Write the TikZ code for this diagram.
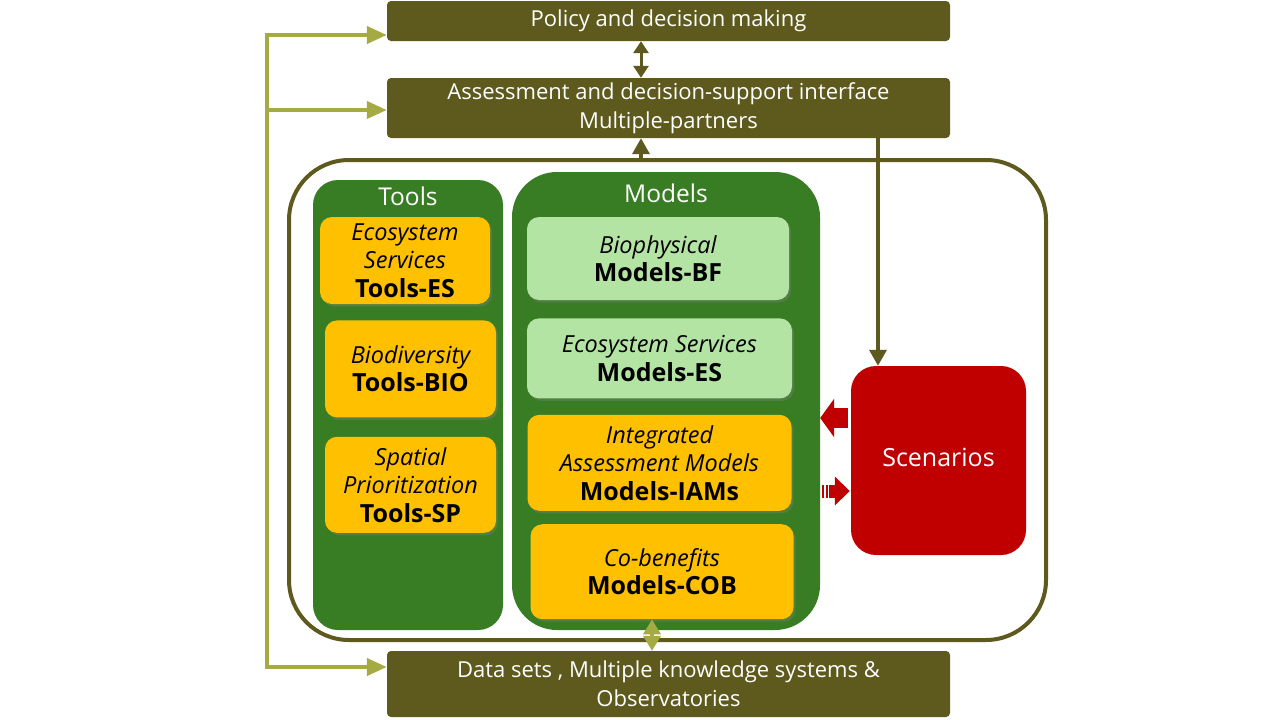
\documentclass[tikz,border=0pt]{standalone}
\usepackage{fontspec}
\setmainfont{Open Sans}
\usetikzlibrary{arrows.meta,positioning,calc,shadows}
\definecolor{myolive}{RGB}{94,90,30}
\definecolor{mysage}{RGB}{166,170,66}
\definecolor{myleaf}{RGB}{56,125,35}
\definecolor{myamber}{RGB}{255,192,0}
\definecolor{mymint}{RGB}{180,228,164}
\definecolor{myred}{RGB}{192,0,0}
\newcommand{\kind}[1]{{\itshape #1}}
\newcommand{\code}[1]{{\bfseries\fontsize{25}{29}\selectfont #1}}
\tikzset{
    line/.style    = {-{Triangle[length=16pt,width=17pt]}, line width=3.5pt, draw=myolive},
    twoway/.style  = {{Triangle[length=12pt,width=15pt]}-{Triangle[length=12pt,width=15pt]},
            line width=3pt, draw=myolive},
    feed/.style    = {-{Triangle[length=20pt,width=17pt]}, line width=4pt, draw=mysage},
    feedboth/.style = {{Triangle[length=20pt,width=17pt]}-{Triangle[length=20pt,width=17pt]},
            line width=4pt, draw=mysage, line join=miter},
    link/.style    = {{Triangle[length=15pt,width=17pt]}-{Triangle[length=15pt,width=17pt]},
            line width=4pt, draw=mysage},
    band/.style    = {fill=myolive, text=white, rounded corners=4pt,
            minimum width=563pt, align=center, inner sep=2pt,
            font=\fontsize{22}{29}\selectfont},
    panel/.style   = {fill=myleaf, inner sep=0pt},
    paneltitle/.style = {text=white, font=\fontsize{24.5}{28}\selectfont},
    card/.style    = {rounded corners=12pt, align=center, inner sep=2pt,
            drop shadow={shadow xshift=2pt, shadow yshift=-2.5pt, opacity=.35},
            font=\fontsize{23.5}{28.5}\selectfont},
    toolbox/.style = {card, fill=myamber},
    modelbox/.style = {card, fill=mymint},
    pushleft/.style = {-{Triangle[length=14pt,width=38pt]}, line width=20pt, draw=myred},
    pushright/.style = {-{Triangle[length=15pt,width=28pt]}, line width=13pt, draw=myred,
            dash pattern=on 2pt off 1.5pt on 2pt off 1.5pt on 40pt},
}
\begin{document}
\begin{tikzpicture}[x=1pt, y=-1pt, node distance=16pt]
    \useasboundingbox[fill=white] (0,0) rectangle (1280,720);

    % bands
    \node[band, minimum height=40pt] (policy) at (668.5,21) {Policy and decision making};
    \node[band, minimum height=60pt] (assess) at (668.5,108)
        {Assessment and decision-support interface\\Multiple-partners};
    \node[band, minimum height=66pt] (data) at (668.5,684)
        {Data sets , Multiple knowledge systems \&\\Observatories};

    % frame round tools, models and scenarios
    \node[draw=myolive, line width=4pt, rounded corners=60pt,
        minimum width=757pt, minimum height=480pt] (hub) at (667.5,400) {};

    % Tools
    \node[panel, minimum width=190pt, minimum height=450pt, rounded corners=25pt] (tools) at (408,405) {};
    \node[paneltitle] (toolsT) at ([yshift=-17pt]tools.north) {Tools};
    \node[toolbox, minimum width=170pt, minimum height=87pt] (tES) at (405,260.5)
        {\kind{Ecosystem}\\\kind{Services}\\\code{Tools-ES}};
    \node[toolbox, minimum width=171pt, minimum height=97pt, below=16pt of tES, xshift=5.5pt] (tBIO)
        {\kind{Biodiversity}\\\code{Tools-BIO}};
    \node[toolbox, minimum width=171pt, minimum height=96pt, below=19pt of tBIO] (tSP)
        {\kind{Spatial}\\\kind{Prioritization}\\\code{Tools-SP}};

    % Models
    \node[panel, minimum width=308pt, minimum height=458pt, rounded corners=45pt] (models) at (666,401) {};
    \node[paneltitle] (modelsT) at ([yshift=-22pt]models.north) {Models};
    \node[modelbox, minimum width=262pt, minimum height=83pt] (mBF) at (658,258.5)
        {\kind{Biophysical}\\\code{Models-BF}};
    \node[modelbox, minimum width=265pt, minimum height=80pt, below=18pt of mBF, xshift=1.5pt] (mES)
        {\kind{Ecosystem Services}\\\code{Models-ES}};
    \node[toolbox, minimum width=264pt, minimum height=96pt, below=16pt of mES] (mIAM)
        {\kind{Integrated}\\\kind{Assessment Models}\\\code{Models-IAMs}};
    \node[toolbox, minimum width=263pt, minimum height=95pt, below=13pt of mIAM, xshift=2.5pt] (mCOB)
        {\kind{Co-benefits}\\\code{Models-COB}};

    % Scenarios
    \node[fill=myred, text=white, rounded corners=25pt, minimum width=175pt, minimum height=189pt,
        font=\fontsize{25}{28}\selectfont] (scen) at (938.5,460.5) {\raisebox{7pt}{Scenarios}};

    % Arrows
    \coordinate (spine) at (641,0);
    \coordinate (drop) at (878,0);
    \coordinate (tie) at (652,0);
    \draw[twoway] (spine |- policy.south) -- (spine |- assess.north);
    \draw[line] (spine |- hub.north) -- (spine |- assess.south);
    \draw[line] (drop |- assess.south) -- (drop |- scen.north);
    \draw[link] (tie |- mCOB.south) -- (tie |- data.north);

    \coordinate (feedA) at ([yshift=42.5pt]scen.west);
    \coordinate (feedB) at ([yshift=-30.5pt]scen.west);
    \draw[pushleft] ([xshift=-3pt]feedA) -- (feedA -| models.east);
    \draw[pushright] ([xshift=2pt]feedB -| models.east) -- ([xshift=-1pt]feedB);

    \coordinate (railtop) at (267,35);
    \coordinate (railbot) at (267,667);
    \draw[feedboth] (railbot -| data.west) -- (railbot) -- (railtop) -- (railtop -| policy.west);
    \draw[feed] (railtop |- 0,110) -- (assess.west |- 0,110);
\end{tikzpicture}
\end{document}
